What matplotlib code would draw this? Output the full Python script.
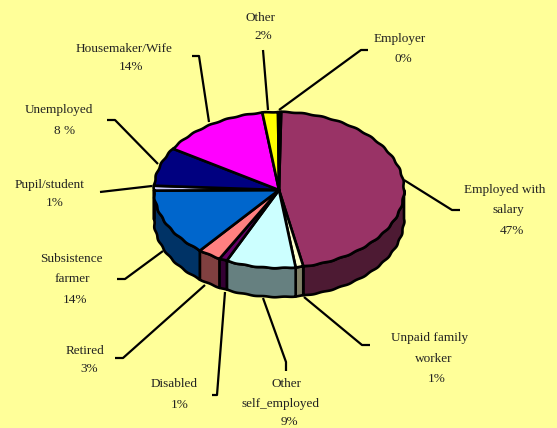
import matplotlib
matplotlib.use('Agg')
import matplotlib.pyplot as plt
from matplotlib.colors import to_rgb
import numpy as np

plt.rcParams['font.family'] = ['Liberation Serif', 'DejaVu Serif']

# clockwise from the top of the pie
categories = ['Employed with salary', 'Unpaid family worker', 'Other self_employed', 'Disabled', 'Retired',
              'Subsistence farmer', 'Pupil/student', 'Unemployed', 'Housemaker/Wife', 'Other', 'Employer']
shares = [46.6, 1, 9, 1, 3, 14, 1, 8, 14, 2, 0.4]
colors = ['#993366', '#ffffcc', '#ccffff', '#660066', '#ff8080', '#0066cc', '#ccccff', '#000080', '#ff00ff',
          '#ffff00', '#000000']

# each label line: text, centre x, centre y
label_lines = [
    ('Employed with', 505, 190), ('salary', 508, 210), ('47%', 512, 231),
    ('Unpaid family', 430, 338), ('worker', 434, 359), ('1%', 437, 379),
    ('Other', 286, 384), ('self_employed', 281, 404), ('9%', 289, 422),
    ('Disabled', 174, 384), ('1%', 180, 405),
    ('Retired', 85, 351), ('3%', 89, 369),
    ('Subsistence', 71, 259), ('farmer', 72, 279), ('14%', 75, 300),
    ('Pupil/student', 50, 185), ('1%', 55, 203),
    ('Unemployed', 59, 110), ('8 %', 65, 131),
    ('Housemaker/Wife', 124, 49), ('14%', 131, 67),
    ('Other', 261, 18), ('2%', 263, 36),
    ('Employer', 400, 39), ('0%', 403, 59),
]
leaders = [
    [(404, 180), (452, 210), (460, 210)],
    [(304, 297), (362, 345), (370, 345)],
    [(263, 298), (286, 362), (286, 371)],
    [(225, 292), (217, 395), (212, 395)],
    [(205, 285), (123, 358), (115, 358)],
    [(163, 251), (125, 279), (117, 279)],
    [(152, 186), (100, 192)],
    [(158, 164), (115, 120), (107, 120)],
    [(209, 122), (199, 56), (192, 56)],
    [(268, 110), (263, 50)],
    [(279, 110), (361, 50), (368, 50)],
]

CX, CY, RX, RY, DEPTH = 279, 190, 125, 78, 29
START = 1.0


def rim(a0, a1):
    a = np.radians(np.linspace(a0, a1, max(int(abs(a1 - a0)) * 4, 2)))
    # the reference has a slightly bumpy rim
    r = 1 + 0.004 * np.sin(40 * a)
    return CX + RX * r * np.sin(a), CY - RY * r * np.cos(a)


fig = plt.figure(figsize=(5.57, 4.28), dpi=100, facecolor='#ffff99')
ax = fig.add_axes([0, 0, 1, 1])
ax.set_xlim(0, 557)
ax.set_ylim(428, 0)
ax.axis('off')

edges = START + np.cumsum([0] + shares) * 3.6

for pts in leaders:
    xs, ys = zip(*pts)
    ax.plot(xs, ys, color='black', lw=1.6, solid_capstyle='butt', zorder=1)

# side walls of the front half
for i, c in enumerate(colors):
    a0, a1 = max(edges[i], 90), min(edges[i + 1], 270)
    if a1 <= a0:
        continue
    x, y = rim(a0, a1)
    side = [v * 0.5 for v in to_rgb(c)]
    ax.fill(np.r_[x, x[::-1]], np.r_[y, y[::-1] + DEPTH], facecolor=side, edgecolor='black', lw=1.9,
            joinstyle='round', zorder=2)

# top face
for i, c in enumerate(colors):
    x, y = rim(edges[i], edges[i + 1])
    ax.fill(np.r_[CX, x], np.r_[CY, y], facecolor=c, edgecolor='black', lw=1.9, joinstyle='round', zorder=3)

for text, x, y in label_lines:
    ax.text(x, y, text, ha='center', va='center', fontsize=9.5, color='#222222')

fig.savefig('out.png', dpi=100, facecolor=fig.get_facecolor())
